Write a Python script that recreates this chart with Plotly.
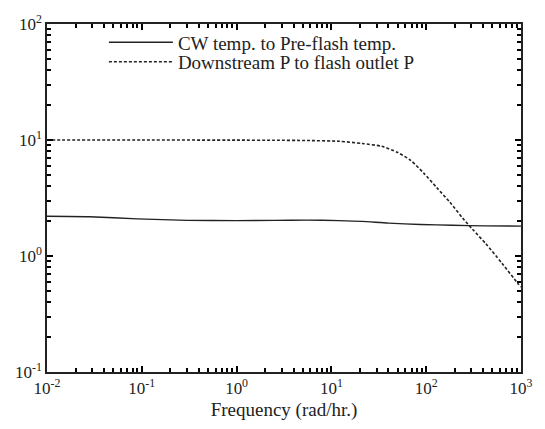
import plotly.graph_objects as go

# Data
dashed_f = [0.01, 0.1, 1, 2.5, 5.5, 12.1, 21, 33.8, 50.2, 68.7, 94.2, 129, 177, 243, 308, 424, 627, 931, 1000]
dashed_v = [10.0, 10.0, 9.97, 9.95, 9.9, 9.75, 9.33, 8.83, 7.80, 6.67, 5.18, 3.89, 2.92, 2.12, 1.70, 1.28, 0.87, 0.577, 0.54]

solid_f = [0.01, 0.028, 0.09, 0.3, 1, 2.5, 5.5, 12, 21, 40, 87, 190, 420, 1000]
solid_v = [2.20, 2.18, 2.09, 2.03, 2.02, 2.03, 2.04, 2.02, 1.99, 1.92, 1.87, 1.84, 1.82, 1.81]

series_names = ["CW temp. to Pre-flash temp.", "Downstream P to flash outlet P"]

x_decades = [0.01, 0.1, 1, 10, 100, 1000]
x_ticktext = ["10<sup>-2</sup>", "10<sup>-1</sup>", "10<sup>0</sup>", "10<sup>1</sup>", "10<sup>2</sup>", "10<sup>3</sup>"]
y_decades = [0.1, 1, 10, 100]
y_ticktext = ["10<sup>-1</sup>", "10<sup>0</sup>", "10<sup>1</sup>", "10<sup>2</sup>"]
mantissas = [2, 3, 4, 5, 6, 7, 8, 9]

x_minor = [d * m for d in x_decades[:-1] for m in mantissas]
y_minor = [d * m for d in y_decades[:-1] for m in mantissas]

x_range = [-2, 3]
y_range = [-1, 2]

ink = "#222222"
tick_ink = "black"
font_family = "Liberation Serif, Times New Roman, serif"

fig = go.Figure()
fig.add_trace(go.Scatter(
    x=solid_f, y=solid_v, mode="lines", name=series_names[0], legend="legend",
    line=dict(color=ink, width=1.4, shape="spline", smoothing=0.6),
))
fig.add_trace(go.Scatter(
    x=dashed_f, y=dashed_v, mode="lines", name=series_names[1], legend="legend2",
    line=dict(color=ink, width=1.6, dash="3px,2px", shape="spline", smoothing=0.6),
))
# invisible helper traces so the overlay tick axes are drawn
for k in (2, 3, 4):
    fig.add_trace(go.Scatter(
        x=solid_f, y=solid_v, mode="lines", xaxis=f"x{k}", yaxis=f"y{k}",
        opacity=0, showlegend=False, hoverinfo="skip",
        line=dict(color="rgba(0,0,0,0)", width=0),
    ))

tick_base = dict(type="log", showgrid=False, zeroline=False, ticks="inside",
                 tickcolor=tick_ink, tickwidth=2)

fig.update_layout(
    xaxis=dict(
        **tick_base, range=x_range, ticklen=6,
        showline=True, linecolor=ink, linewidth=1.5, mirror=True,
        tickvals=x_decades, ticktext=x_ticktext,
        tickfont=dict(family=font_family, size=17, color=ink),
        title=dict(text="Frequency (rad/hr.)", font=dict(family=font_family, size=19, color=ink), standoff=6),
    ),
    yaxis=dict(
        **tick_base, range=y_range, ticklen=6,
        showline=True, linecolor=ink, linewidth=1.5, mirror=True,
        tickvals=y_decades, ticktext=y_ticktext,
        tickfont=dict(family=font_family, size=17, color=ink),
    ),
    # bottom / left minor ticks
    xaxis2=dict(**tick_base, range=x_range, ticklen=4, overlaying="x", anchor="y2", side="bottom",
                tickvals=x_minor, showticklabels=False, showline=False),
    yaxis2=dict(**tick_base, range=y_range, ticklen=4, overlaying="y", anchor="x2", side="left",
                tickvals=y_minor, showticklabels=False, showline=False),
    # top / right major ticks
    xaxis3=dict(**tick_base, range=x_range, ticklen=6, overlaying="x", anchor="y3", side="top",
                tickvals=x_decades, showticklabels=False, showline=False),
    yaxis3=dict(**tick_base, range=y_range, ticklen=6, overlaying="y", anchor="x3", side="right",
                tickvals=y_decades, showticklabels=False, showline=False),
    # top / right minor ticks
    xaxis4=dict(**tick_base, range=x_range, ticklen=4, overlaying="x", anchor="y4", side="top",
                tickvals=x_minor, showticklabels=False, showline=False),
    yaxis4=dict(**tick_base, range=y_range, ticklen=4, overlaying="y", anchor="x4", side="right",
                tickvals=y_minor, showticklabels=False, showline=False),
)

legend_style = dict(
    xanchor="left", yanchor="middle",
    bgcolor="rgba(0,0,0,0)", borderwidth=0,
    font=dict(family=font_family, size=19, color=ink),
    itemwidth=64,
)

fig.update_layout(
    width=545, height=429,
    margin=dict(l=47, r=18, t=19, b=52),
    paper_bgcolor="white", plot_bgcolor="white",
    showlegend=True,
    legend=dict(x=0.12, y=1 - (38 - 19) / 358, **legend_style),
    legend2=dict(x=0.12, y=1 - (58 - 19) / 358, **legend_style),
)

fig.write_html("out.html")
